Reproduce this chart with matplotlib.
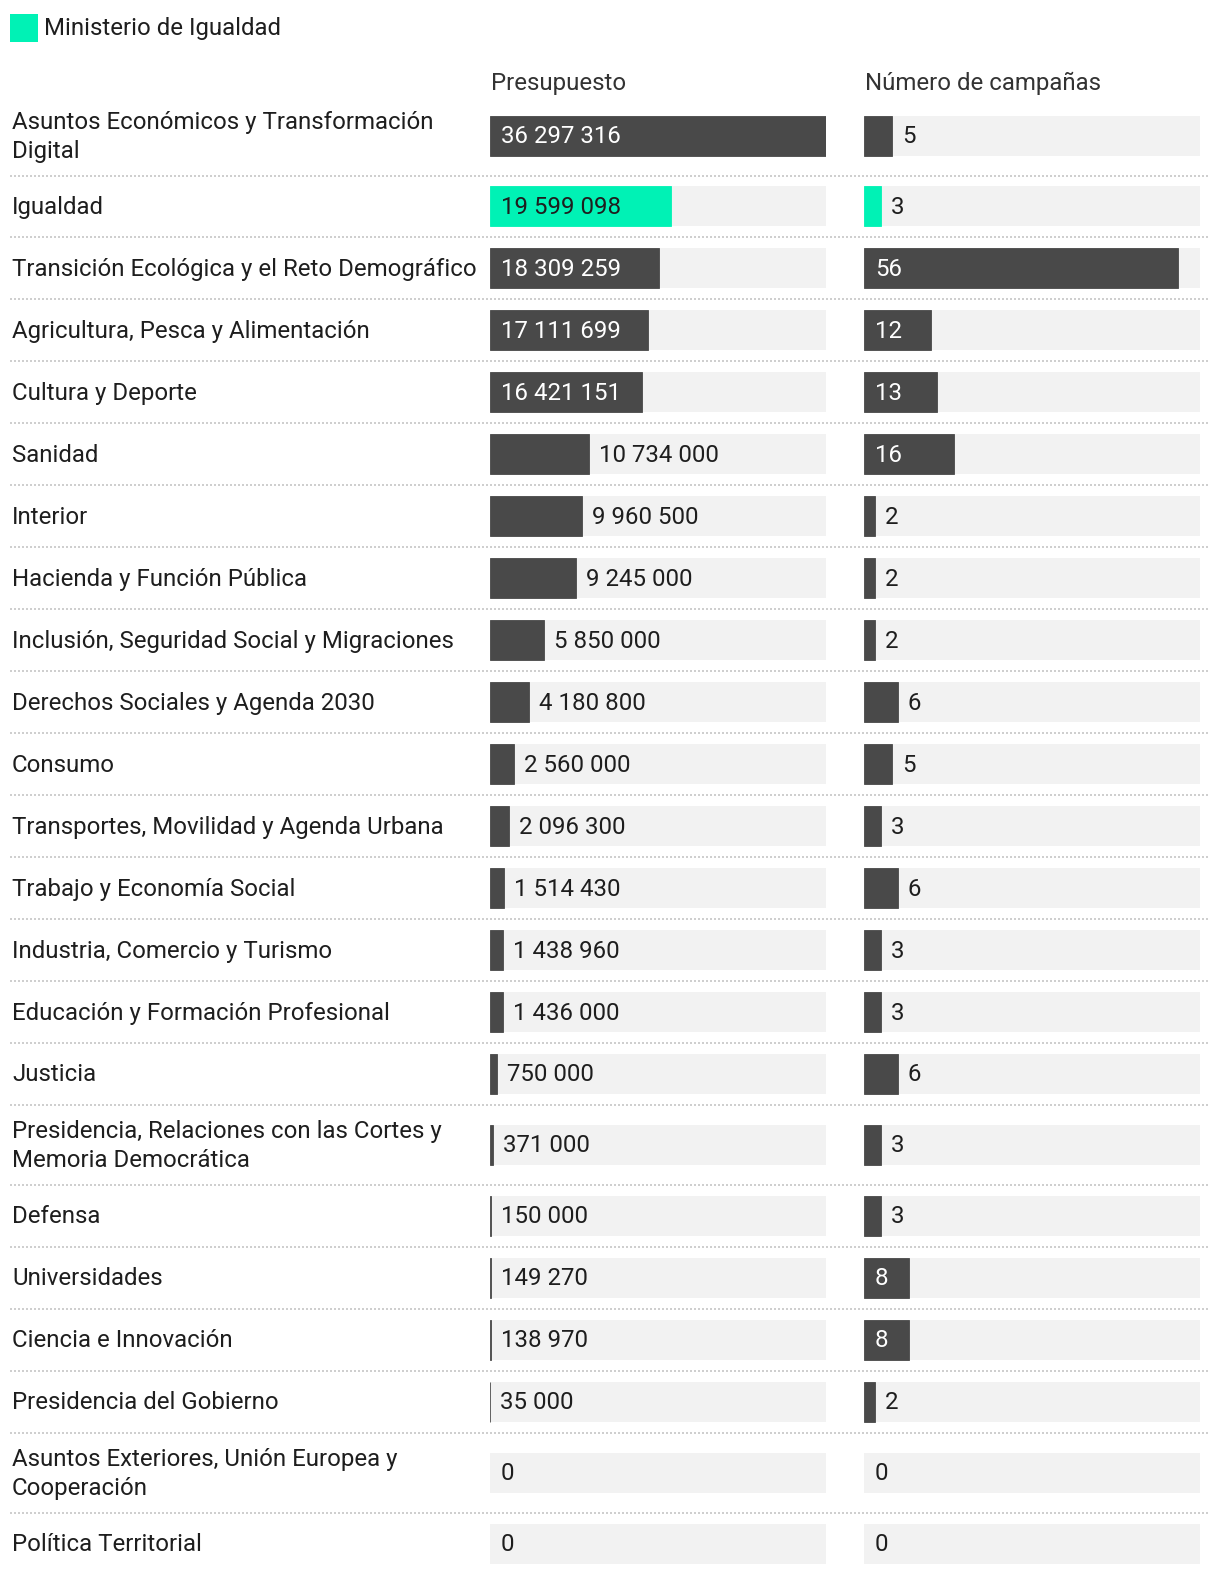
import matplotlib
matplotlib.use("Agg")
import matplotlib.pyplot as plt
from matplotlib.patches import Rectangle

plt.rcParams['font.family'] = ['Roboto', 'DejaVu Sans']

ministerios = [
    "Asuntos Económicos y Transformación\nDigital",
    "Igualdad",
    "Transición Ecológica y el Reto Demográfico",
    "Agricultura, Pesca y Alimentación",
    "Cultura y Deporte",
    "Sanidad",
    "Interior",
    "Hacienda y Función Pública",
    "Inclusión, Seguridad Social y Migraciones",
    "Derechos Sociales y Agenda 2030",
    "Consumo",
    "Transportes, Movilidad y Agenda Urbana",
    "Trabajo y Economía Social",
    "Industria, Comercio y Turismo",
    "Educación y Formación Profesional",
    "Justicia",
    "Presidencia, Relaciones con las Cortes y\nMemoria Democrática",
    "Defensa",
    "Universidades",
    "Ciencia e Innovación",
    "Presidencia del Gobierno",
    "Asuntos Exteriores, Unión Europea y\nCooperación",
    "Política Territorial",
]
presupuesto = [36297316, 19599098, 18309259, 17111699, 16421151, 10734000,
               9960500, 9245000, 5850000, 4180800, 2560000, 2096300, 1514430,
               1438960, 1436000, 750000, 371000, 150000, 149270, 138970,
               35000, 0, 0]
campanas = [5, 3, 56, 12, 13, 16, 2, 2, 2, 6, 5, 3, 6, 3, 3, 6, 3, 3, 8, 8,
            2, 0, 0]
destacado = "Igualdad"
columnas = ["Presupuesto", "Número de campañas"]
leyenda = "Ministerio de Igualdad"
max_presupuesto = 36297316
max_campanas = 60

DARK = "#494949"
GREEN = "#00f2b5"
TRACK = "#f2f2f2"
TXT = "#1e1e1e"
FS = 17.25
DY = 1.2  # visual centring offset (px) for text

W, H = 1220, 1574
DPI = 100
fig = plt.figure(figsize=(W / DPI, H / DPI), dpi=DPI)
main = fig.add_axes([0, 0, 1, 1])
main.set_xlim(0, W)
main.set_ylim(H, 0)
main.axis("off")

# row layout
row_h = []
for m in ministerios:
    row_h.append(80.0 if "\n" in m else 61.95)
top = 95.5
centers, bounds = [], []
y = top
for h in row_h:
    centers.append(y + h / 2)
    y += h
    bounds.append(y)

# legend
main.add_patch(Rectangle((10, 14), 28, 28, color=GREEN, lw=0))
main.text(44, 27 + DY, leyenda, fontsize=FS, color=TXT, va="center", ha="left")

# headers
COL1, COL2, COLW = 490, 864, 336
main.text(COL1 + 1, 82.5 + DY, columnas[0], fontsize=FS, color="#333333",
          va="center")
main.text(COL2 + 1, 82.5 + DY, columnas[1], fontsize=FS, color="#333333",
          va="center")

# labels
for m, c in zip(ministerios, centers):
    main.text(12, c + DY, m, fontsize=FS, color=TXT, va="center",
              ha="left", linespacing=1.35)

# separators
for b in bounds[:-1]:
    main.plot([10, 1208], [b, b], color="#cfcfcf", lw=1.44,
              linestyle=(0, (1, 1)), solid_capstyle="butt")

renderer = fig.canvas.get_renderer()
BAR_H = 40


def column(left_px, values, vmax):
    ax = fig.add_axes([left_px / W, 0, COLW / W, 1])
    ax.set_xlim(0, vmax)
    ax.set_ylim(H, 0)
    ax.axis("off")
    ax.barh(centers, [vmax] * len(values), height=BAR_H, color=TRACK, lw=0)
    colors = [GREEN if m == destacado else DARK for m in ministerios]
    edges = [col if v > 0 else "none" for col, v in zip(colors, values)]
    ax.barh(centers, values, height=BAR_H, color=colors, edgecolor=edges,
            lw=0.6)
    dy_pt = -DY * 72 / DPI
    for v, c, m in zip(values, centers, ministerios):
        s = f"{v:,}".replace(",", " ")
        t = ax.annotate(s, xy=(0, c), xytext=(11 * 72 / DPI, dy_pt),
                        textcoords="offset points", va="center", ha="left",
                        fontsize=FS, color="white")
        w = t.get_window_extent(renderer).width
        bar_px = v / vmax * COLW
        if v > 0 and bar_px >= w + 22:
            t.set_color(TXT if m == destacado else "white")
        else:
            t.remove()
            off = 11 if v == 0 else 10
            ax.annotate(s, xy=(v, c), xytext=(off * 72 / DPI, dy_pt),
                        textcoords="offset points", va="center", ha="left",
                        fontsize=FS, color=TXT)
    return ax


column(COL1, presupuesto, max_presupuesto)
column(COL2, campanas, max_campanas)

fig.savefig("out.png", dpi=DPI, facecolor="white")
